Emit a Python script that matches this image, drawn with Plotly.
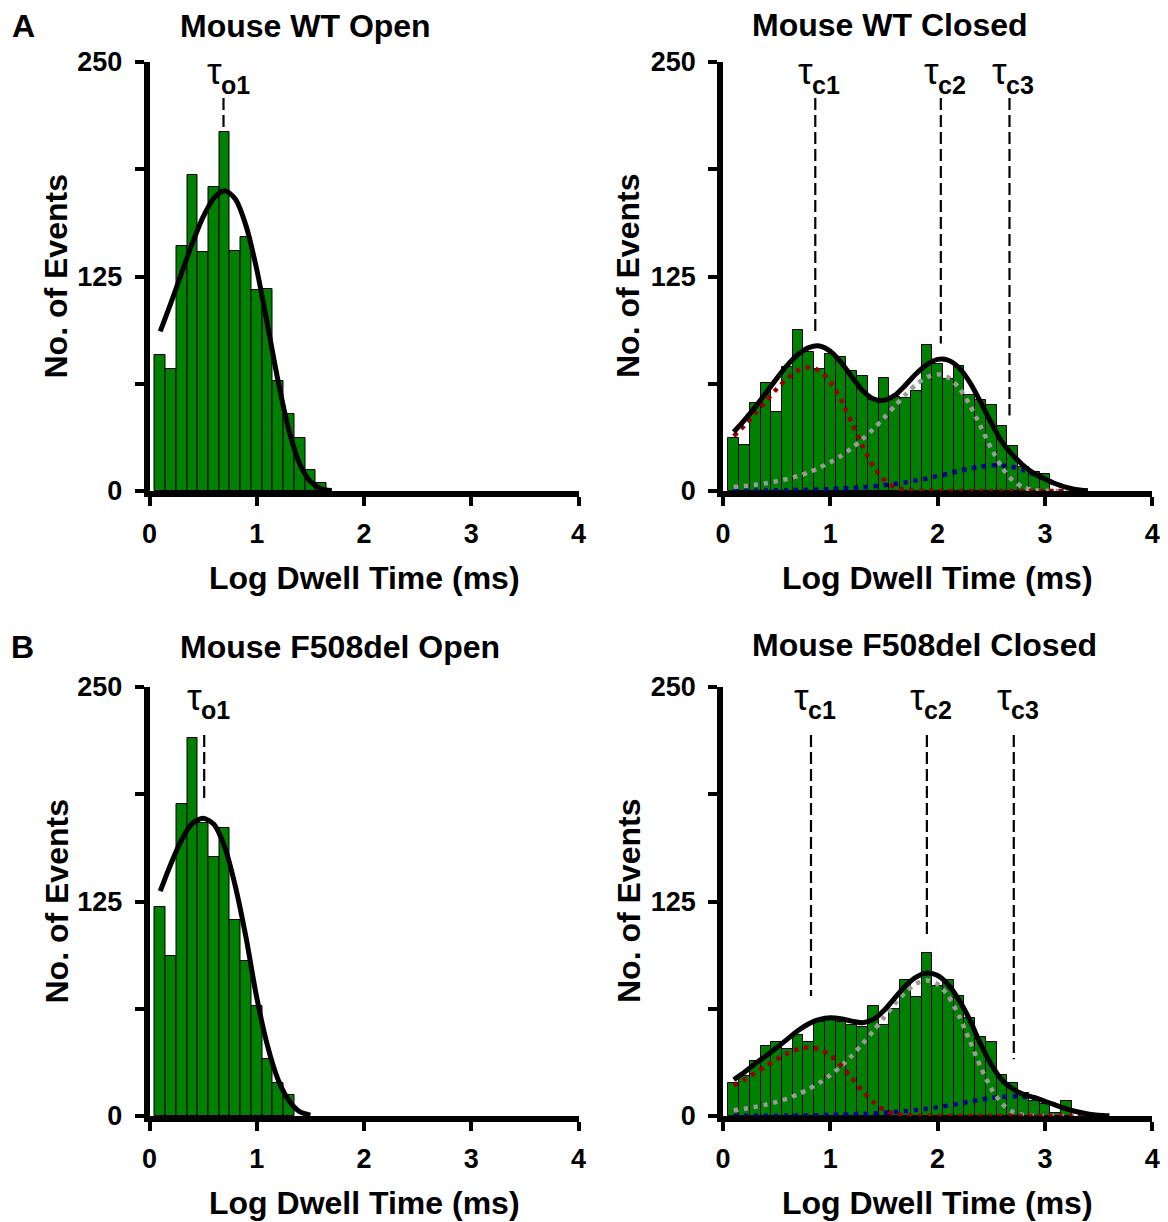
import plotly.graph_objects as go

W, H = 1168, 1222

# ---------------- data ----------------
# Mouse WT open
wt_open_bins = [0.1, 0.2, 0.3, 0.4, 0.5, 0.6, 0.7, 0.8, 0.9, 1.0, 1.1, 1.2, 1.3, 1.4, 1.5, 1.6]
wt_open_counts = [79, 71, 143, 184, 139, 177, 209, 140, 148, 117, 118, 64, 45, 31, 12, 4.5]
wt_open_fit_x = [0.1, 0.2, 0.3, 0.4, 0.5, 0.6, 0.7, 0.8, 0.9, 1.0, 1.1, 1.2, 1.3, 1.4, 1.5, 1.6, 1.7]
wt_open_fit = [93.0, 109.6, 127.2, 144.4, 159.7, 170.7, 175.0, 170.1, 154.5, 129.1, 96.9, 63.7, 35.4, 15.9, 5.5, 1.3, 0.2]
wt_open_tau = [0.69]
wt_open_tau_labels = ["o1"]
wt_open_tau_top = [229]
wt_open_tau_bottom = [211]

# Mouse WT closed
wt_closed_bins = [0.1, 0.2, 0.3, 0.4, 0.5, 0.6, 0.7, 0.8, 0.9, 1.0, 1.1, 1.2, 1.3, 1.4, 1.5, 1.6,
                  1.7, 1.8, 1.9, 2.0, 2.1, 2.2, 2.3, 2.4, 2.5, 2.6, 2.7, 2.8, 2.9, 3.0]
wt_closed_counts = [31, 27, 51, 63, 46, 72, 94, 81, 71, 80, 78, 70, 67, 53, 66, 55,
                    54, 58, 85, 74, 65, 73, 56, 53, 50, 38, 26, 14, 11, 10]
wt_closed_fit_x = [0.1, 0.2, 0.3, 0.4, 0.5, 0.6, 0.7, 0.8, 0.9, 1.0, 1.1, 1.2, 1.3, 1.4, 1.5, 1.6, 1.7,
                   1.8, 1.9, 2.0, 2.1, 2.2, 2.3, 2.4, 2.5, 2.6, 2.7, 2.8, 2.9, 3.0, 3.1, 3.2, 3.3, 3.4]
wt_closed_fit = [34.4, 41.3, 48.9, 57.1, 65.5, 73.3, 79.7, 83.6, 84.5, 81.4, 75.0, 66.6, 58.6, 53.8, 52.9,
                 55.7, 61.7, 68.3, 73.6, 76.7, 76.2, 71.8, 63.3, 51.9, 39.7, 28.6, 21.0, 14.8, 10.2, 7.0,
                 4.2, 2.1, 0.8, 0.2]
wt_closed_c1 = [32.0, 38.2, 45.1, 52.3, 59.4, 65.7, 70.3, 72.0, 70.0, 63.6, 53.1, 39.9, 26.2, 14.5, 6.5,
                2.2, 0.6, 0.1, 0, 0, 0, 0, 0, 0, 0, 0, 0, 0, 0, 0, 0, 0, 0, 0]
wt_closed_c2 = [2.3, 2.9, 3.6, 4.5, 5.7, 7.1, 8.8, 10.9, 13.6, 16.7, 20.5, 25.0, 30.2, 36.1, 42.6, 49.4,
                56.1, 62.1, 66.3, 68.0, 66.1, 60.1, 50.2, 37.7, 24.8, 13.7, 6.2, 2.1, 0.5, 0.1, 0, 0, 0, 0]
wt_closed_c3 = [0.1, 0.2, 0.2, 0.3, 0.4, 0.5, 0.6, 0.7, 0.9, 1.1, 1.4, 1.7, 2.2, 2.7, 3.3, 4.1, 5.0,
                6.1, 7.3, 8.7, 10.1, 11.7, 13.1, 14.2, 14.9, 14.9, 14.0, 12.2, 9.7, 6.9, 4.2, 2.1, 0.8, 0.2]
wt_closed_tau = [0.86, 2.03, 2.67]
wt_closed_tau_labels = ["c1", "c2", "c3"]
wt_closed_tau_top = [229, 229, 229]
wt_closed_tau_bottom = [92, 86, 44]

# Mouse F508del open
df_open_bins = [0.1, 0.2, 0.3, 0.4, 0.5, 0.6, 0.7, 0.8, 0.9, 1.0, 1.1, 1.2, 1.3]
df_open_counts = [122, 93, 182, 220, 171, 151, 168, 114, 90.5, 64, 33, 19.4, 12]
df_open_fit_x = [0.1, 0.2, 0.3, 0.4, 0.5, 0.6, 0.7, 0.8, 0.9, 1.0, 1.1, 1.2, 1.3, 1.4, 1.5]
df_open_fit = [131, 147, 161, 170.5, 173.5, 170, 157, 134, 104, 69, 41, 21, 9, 2.5, 0.5]
df_open_tau = [0.51]
df_open_tau_labels = ["o1"]
df_open_tau_top = [222]
df_open_tau_bottom = [184]

# Mouse F508del closed
df_closed_bins = [0.1, 0.2, 0.3, 0.4, 0.5, 0.6, 0.7, 0.8, 0.9, 1.0, 1.1, 1.2, 1.3, 1.4, 1.5, 1.6,
                  1.7, 1.8, 1.9, 2.0, 2.1, 2.2, 2.3, 2.4, 2.5, 2.6, 2.7, 2.8, 2.9, 3.0, 3.1, 3.2]
df_closed_counts = [19.4, 23.5, 32, 41, 43, 39, 47, 43, 55, 56, 55, 53, 52, 64, 53, 62.5,
                    79, 69.5, 95, 76, 79, 70, 57, 46, 43, 24, 19, 13.5, 9, 7, 2, 9]
df_closed_fit_x = [0.1, 0.2, 0.3, 0.4, 0.5, 0.6, 0.7, 0.8, 0.9, 1.0, 1.1, 1.2, 1.3, 1.4, 1.5, 1.6, 1.7,
                   1.8, 1.9, 2.0, 2.1, 2.2, 2.3, 2.4, 2.5, 2.6, 2.7, 2.8, 2.9, 3.0, 3.1, 3.2, 3.3, 3.4,
                   3.5, 3.6]
df_closed_fit = [21.2, 25.5, 30.5, 35.0, 39.8, 44.8, 49.8, 53.8, 56.3, 57.3, 56.7, 55.3, 54.4, 56.2, 61.5,
                 68.7, 75.8, 80.9, 83.3, 81.9, 76.5, 67.5, 56.0, 42.0, 30.0, 21.0, 15.8, 12.6, 10.8, 8.6,
                 6.3, 4.2, 2.5, 1.2, 0.5, 0.2]
df_closed_c1 = [17.8, 21.2, 25.1, 29.1, 33.0, 36.5, 39.0, 40.0, 38.9, 35.3, 29.5, 22.2, 14.6, 8.1, 3.6,
                1.2, 0.3, 0.05, 0, 0, 0, 0, 0, 0, 0, 0, 0, 0, 0, 0, 0, 0, 0, 0, 0, 0]
df_closed_c2 = [3.3, 4.2, 5.3, 6.6, 8.2, 10.2, 12.7, 15.8, 19.4, 23.8, 29.0, 35.1, 42.0, 49.5, 57.4, 65.2,
                72.1, 77.1, 79.0, 76.8, 69.8, 58.3, 43.8, 28.8, 16.0, 7.2, 2.5, 0.6, 0.1, 0, 0, 0, 0, 0, 0, 0]
df_closed_c3 = [0.1, 0.1, 0.1, 0.2, 0.2, 0.3, 0.3, 0.4, 0.5, 0.6, 0.8, 1.0, 1.2, 1.5, 1.9, 2.3, 2.8,
                3.5, 4.2, 5.1, 6.1, 7.2, 8.4, 9.5, 10.5, 11.2, 11.5, 11.2, 10.2, 8.5, 6.4, 4.2, 2.3, 1.0,
                0.4, 0.1]
df_closed_tau = [0.82, 1.90, 2.71]
df_closed_tau_labels = ["c1", "c2", "c3"]
df_closed_tau_top = [222, 222, 222]
df_closed_tau_bottom = [70, 105, 33]

titles = ["Mouse WT Open", "Mouse WT Closed", "Mouse F508del Open", "Mouse F508del Closed"]
panel_letters = ["A", "B"]
x_title = "Log Dwell Time (ms)"
y_title = "No. of Events"
x_ticks = [0, 1, 2, 3, 4]
y_ticks = [0, 62.5, 125, 187.5, 250]
y_ticktext = ["0", "", "125", "", "250"]

# ---------------- styling ----------------
FONT = "Liberation Sans, Arial, sans-serif"
GREEN = "#008000"
RED = "#960000"
GRAY = "#9a9a9a"
BLUE = "#000090"


def px_x(p):
    return p / W


def px_y(p):
    return 1 - p / H


# plot-area pixel boxes: (left, right, top, bottom)
boxes = [
    (149.5, 578.5, 62, 491),
    (723, 1152.2, 62, 491),
    (149.5, 578.5, 687, 1116),
    (723, 1152.2, 687, 1116),
]

fig = go.Figure()
layout = dict(
    width=W, height=H,
    margin=dict(l=0, r=0, t=0, b=0, autoexpand=False),
    paper_bgcolor="white", plot_bgcolor="white",
    showlegend=False,
    bargap=0,
    font=dict(family=FONT, color="black"),
)

panels = [
    dict(bins=wt_open_bins, counts=wt_open_counts, fx=wt_open_fit_x, fit=wt_open_fit, comps=None,
         tau=wt_open_tau, tl=wt_open_tau_labels, tt=wt_open_tau_top, tb=wt_open_tau_bottom),
    dict(bins=wt_closed_bins, counts=wt_closed_counts, fx=wt_closed_fit_x, fit=wt_closed_fit,
         comps=[wt_closed_c3, wt_closed_c2, wt_closed_c1],
         tau=wt_closed_tau, tl=wt_closed_tau_labels, tt=wt_closed_tau_top, tb=wt_closed_tau_bottom),
    dict(bins=df_open_bins, counts=df_open_counts, fx=df_open_fit_x, fit=df_open_fit, comps=None,
         tau=df_open_tau, tl=df_open_tau_labels, tt=df_open_tau_top, tb=df_open_tau_bottom),
    dict(bins=df_closed_bins, counts=df_closed_counts, fx=df_closed_fit_x, fit=df_closed_fit,
         comps=[df_closed_c3, df_closed_c2, df_closed_c1],
         tau=df_closed_tau, tl=df_closed_tau_labels, tt=df_closed_tau_top, tb=df_closed_tau_bottom),
]
comp_colors = [BLUE, GRAY, RED]

annotations = []

for i, p in enumerate(panels):
    n = "" if i == 0 else str(i + 1)
    xa, ya = "x" + n, "y" + n
    l, r, t, b = boxes[i]
    layout["xaxis" + n] = dict(
        domain=[px_x(l), px_x(r)], anchor=ya, range=[0, 4], automargin=False,
        tickvals=x_ticks, ticks="outside", ticklen=9, tickwidth=4, tickcolor="black",
        showline=True, linewidth=5.5, linecolor="black", showgrid=False, zeroline=False,
        tickfont=dict(family=FONT, size=27, color="black", weight="bold"),
        ticklabelstandoff=5, fixedrange=True,
    )
    layout["yaxis" + n] = dict(
        domain=[px_y(b), px_y(t)], anchor=xa, range=[0, 250], automargin=False,
        tickvals=y_ticks, ticktext=y_ticktext, ticks="outside", ticklen=9, tickwidth=4,
        tickcolor="black",
        showline=True, linewidth=5.5, linecolor="black", showgrid=False, zeroline=False,
        tickfont=dict(family=FONT, size=27, color="black", weight="bold"),
        ticklabelstandoff=7, fixedrange=True,
    )
    fig.add_trace(go.Bar(x=p["bins"], y=p["counts"], width=0.1, xaxis=xa, yaxis=ya,
                         marker=dict(color=GREEN, line=dict(color="black", width=1))))
    if p["comps"]:
        for comp, col in zip(p["comps"], comp_colors):
            fig.add_trace(go.Scatter(x=p["fx"], y=comp, mode="lines", xaxis=xa, yaxis=ya,
                                     line=dict(color=col, width=4.5, dash="4.5px,5.5px",
                                               shape="spline", smoothing=0.8)))
    fig.add_trace(go.Scatter(x=p["fx"], y=p["fit"], mode="lines", xaxis=xa, yaxis=ya,
                             line=dict(color="black", width=5, shape="spline", smoothing=0.8)))
    for tv, lab, y0, y1 in zip(p["tau"], p["tl"], p["tt"], p["tb"]):
        fig.add_trace(go.Scatter(x=[tv, tv], y=[y0, y1], mode="lines", xaxis=xa, yaxis=ya,
                                 line=dict(color="black", width=2.2, dash="12px,5px")))
        row_top = t
        annotations.append(dict(
            x=tv, y=px_y(row_top + 10), xref=xa, yref="paper", text="τ", showarrow=False,
            xanchor="right", yanchor="middle", xshift=-1, borderpad=0,
            font=dict(family=FONT, size=37, color="black")))
        annotations.append(dict(
            x=tv, y=px_y(row_top + 23), xref=xa, yref="paper", text=lab, showarrow=False,
            xanchor="left", yanchor="middle", xshift=-4, borderpad=0,
            font=dict(family=FONT, size=25, color="black", weight="bold")))

# panel titles
title_pos = [(305, 26), (890, 25), (340, 647), (924, 645)]
for txt, (cx, cy) in zip(titles, title_pos):
    annotations.append(dict(x=px_x(cx), y=px_y(cy), xref="paper", yref="paper", text=txt,
                            showarrow=False, xanchor="center", yanchor="middle",
                            font=dict(family=FONT, size=32, color="black", weight="bold")))
# panel letters
for txt, (cx, cy) in zip(panel_letters, [(23, 26), (22, 647)]):
    annotations.append(dict(x=px_x(cx), y=px_y(cy), xref="paper", yref="paper", text=txt,
                            showarrow=False, xanchor="center", yanchor="middle",
                            font=dict(family=FONT, size=32, color="black", weight="bold")))
# axis titles
for cx, cy in [(364, 578), (937.5, 578), (364, 1203), (937.5, 1203)]:
    annotations.append(dict(x=px_x(cx), y=px_y(cy), xref="paper", yref="paper", text=x_title,
                            showarrow=False, xanchor="center", yanchor="middle",
                            font=dict(family=FONT, size=32, color="black", weight="bold")))
for cx, cy in [(56, 276.5), (628.5, 276.5), (56, 901.5), (628.5, 901.5)]:
    annotations.append(dict(x=px_x(cx), y=px_y(cy), xref="paper", yref="paper", text=y_title,
                            showarrow=False, xanchor="center", yanchor="middle", textangle=-90,
                            font=dict(family=FONT, size=32, color="black", weight="bold")))

layout["annotations"] = annotations
fig.update_layout(**layout)
fig.write_html("out.html", config={"displayModeBar": False},
               post_script="document.body.style.margin='0px';document.body.style.overflow='hidden';")
